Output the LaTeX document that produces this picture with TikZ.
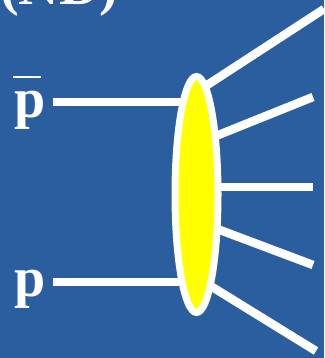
\documentclass[tikz,border=0pt]{standalone}
\usepackage{fontspec}
\setmainfont{Liberation Serif}
\definecolor{bgblue}{RGB}{43,94,158}
\definecolor{blobyellow}{RGB}{255,255,0}
\begin{document}
\begin{tikzpicture}[x=1pt,y=-1pt,
  lbl/.style={text=white,font=\fontsize{56}{60}\selectfont\bfseries,inner sep=0pt,anchor=base west},
  wire/.style={draw=white,line width=8.5pt},
  blobstyle/.style={ellipse,draw=white,line width=7pt,fill=blobyellow,minimum width=43pt,minimum height=236pt,inner sep=0pt}]
\usetikzlibrary{shapes.geometric}
\fill[bgblue] (0,0) rectangle (324,358);
\useasboundingbox (0,0) rectangle (324,358);
\begin{scope}
\clip (0,0) rectangle (324,358);
\node[lbl] (nd) at (0,5) {(ND)};
\node[lbl] (pbar) at (14,118) {\makebox[0pt][l]{\hspace{-1pt}\raisebox{39.75pt}{\rule{28pt}{2.5pt}}}p};
\node[lbl] (p) at (14,296) {p};
\coordinate (blobc) at (196.5,194.5);
\coordinate (inA) at (53,102);
\coordinate (inB) at (53,282);
\coordinate (o1s) at (195,93);   \coordinate (o1) at (324,9);
\coordinate (o2s) at (196,144);  \coordinate (o2) at (313,97);
\coordinate (o3s) at (196,187);  \coordinate (o3) at (313,187);
\coordinate (o4s) at (196,221);  \coordinate (o4) at (313,265);
\coordinate (o5s) at (196,277);  \coordinate (o5) at (316,351);
\draw[wire] (inA) -- (inA -| blobc);
\draw[wire] (inB) -- (inB -| blobc);
\draw[wire] (o1s) -- (o1);
\draw[wire] (o2s) -- (o2);
\draw[wire] (o3s) -- (o3);
\draw[wire] (o4s) -- (o4);
\draw[wire] (o5s) -- (o5);
\node[blobstyle] (blob) at (blobc) {};
\end{scope}
\end{tikzpicture}
\end{document}
